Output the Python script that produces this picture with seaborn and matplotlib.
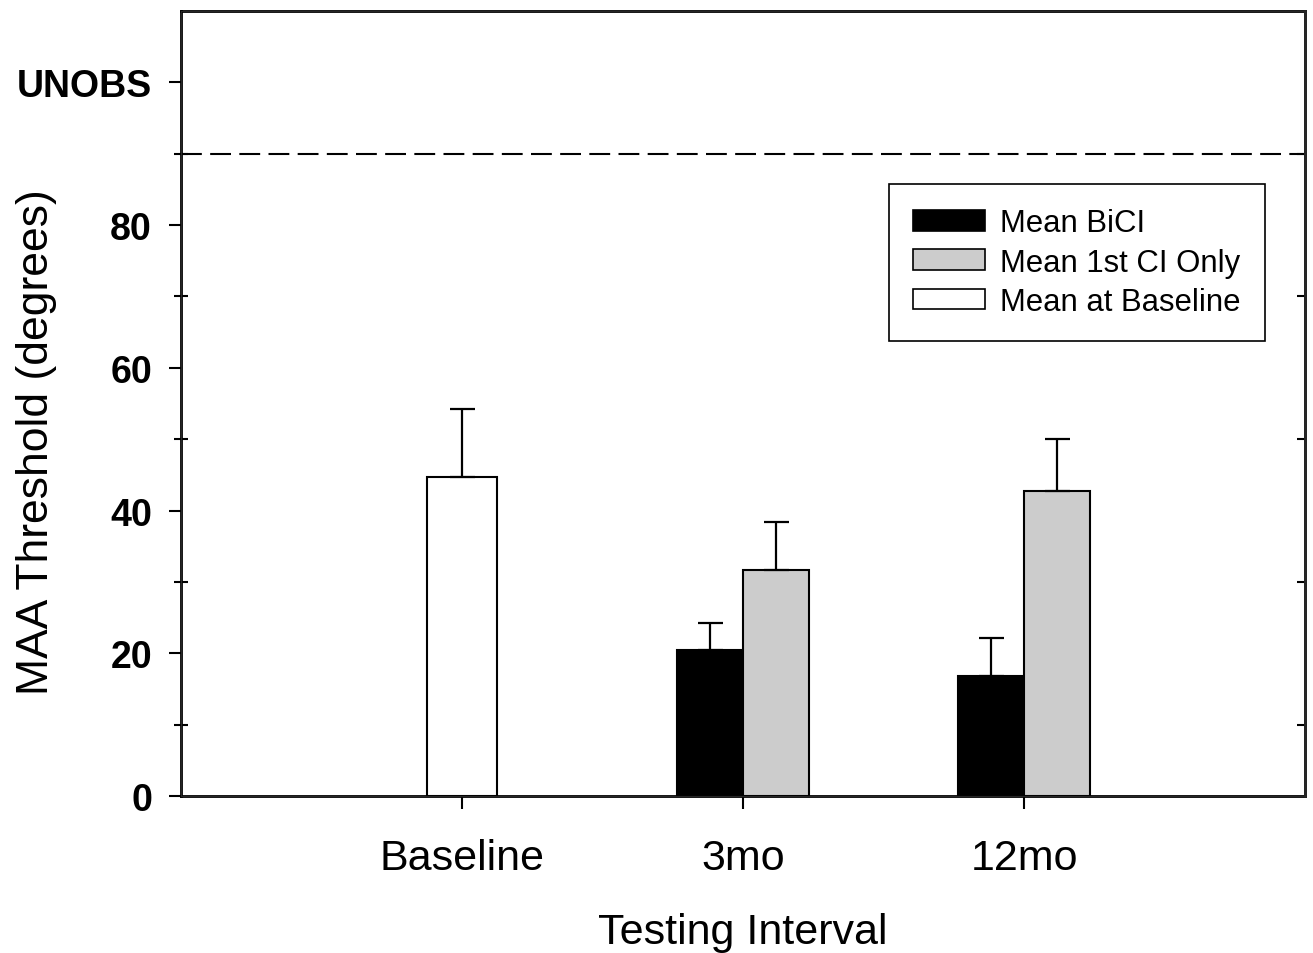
import matplotlib
matplotlib.use("Agg")
import matplotlib.pyplot as plt
from matplotlib.patches import Patch
import pandas as pd
import seaborn as sns

sns.set_style("ticks")
plt.rcParams['font.family'] = ['Liberation Sans', 'DejaVu Sans']
plt.rcParams.update({"text.color": "black", "axes.labelcolor": "black",
                     "xtick.color": "black", "ytick.color": "black"})

# data
intervals = ["Baseline", "3mo", "12mo"]
followups = ["3mo", "12mo"]
groups = ["Mean BiCI", "Mean 1st CI Only", "Mean at Baseline"]
group_colors = ["black", "#cccccc", "white"]

baseline_mean = [44.7]
baseline_err = [9.5]
bici_mean = [20.4, 16.8]
bici_err = [3.8, 5.3]
first_ci_mean = [31.6, 42.7]
first_ci_err = [6.8, 7.3]

ytick_vals = [0, 20, 40, 60, 80, 100]
ytick_labels = ["0", "20", "40", "60", "80", "UNOBS"]
minor_vals = [10, 30, 50, 70, 90]
unobs_cut = 90

base_df = pd.DataFrame({"interval": ["Baseline"], "group": groups[2],
                        "mean": baseline_mean, "err": baseline_err})
fu_df = pd.DataFrame({
    "interval": followups * 2,
    "group": [groups[0]] * 2 + [groups[1]] * 2,
    "mean": bici_mean + first_ci_mean,
    "err": bici_err + first_ci_err,
})
all_df = pd.concat([base_df, fu_df], ignore_index=True)

fig = plt.figure(figsize=(13.13, 9.54), dpi=100)
ax = fig.add_axes([0.1379, 0.1646, 0.8560, 0.8228])

sns.barplot(data=base_df, x="interval", y="mean", order=intervals, color="white",
            width=0.25, saturation=1, edgecolor="black", linewidth=1.5,
            errorbar=None, ax=ax)
sns.barplot(data=fu_df, x="interval", y="mean", hue="group", order=intervals,
            hue_order=groups[:2], palette=dict(zip(groups, group_colors)),
            width=0.47, saturation=1, edgecolor="black", linewidth=1.5,
            errorbar=None, legend=False, ax=ax)

# upper error bars only, placed on each bar the library drew
for p in ax.patches:
    h = p.get_height()
    match = all_df[(all_df["mean"] - h).abs() < 1e-9]
    if len(match) == 0:
        continue
    xc = p.get_x() + p.get_width() / 2
    ax.errorbar([xc], [h], yerr=[[0], [match["err"].iloc[0]]], fmt="none",
                ecolor="black", elinewidth=1.6, capsize=9, capthick=1.6, zorder=1)

ax.axhline(unobs_cut, color="black", lw=1.5, ls=(0, (10, 4)), zorder=0)

ax.set_xlim(-1, 3)
ax.set_ylim(0, 110)
ax.set_yticks(ytick_vals)
ax.set_yticklabels(ytick_labels, fontsize=27, fontweight="bold")
ax.set_yticks(minor_vals, minor=True)
ax.tick_params(axis="y", which="major", direction="out", length=9, width=1.5, pad=12)
ax.tick_params(axis="y", which="minor", direction="inout", length=10, width=1.5)
ax.tick_params(axis="x", direction="out", length=9, width=1.5, labelsize=31, pad=21)

for s in ax.spines.values():
    s.set_visible(True)
    s.set_linewidth(2)
    s.set_color("black")

twin = ax.twinx()
twin.set_ylim(ax.get_ylim())
twin.set_yticks(minor_vals)
twin.tick_params(axis="y", direction="in", length=6, width=1.5, labelright=False)
twin.spines["right"].set_linewidth(2)

ax.set_xlabel("Testing Interval", fontsize=31, labelpad=25)
ax.set_ylabel("MAA Threshold (degrees)", fontsize=32)
ax.yaxis.set_label_coords(-0.11, 0.452)

handles = [Patch(facecolor=c, edgecolor="black", linewidth=1.2) for c in group_colors]
leg = ax.legend(handles, groups, loc="upper right", bbox_to_anchor=(0.9644, 0.7796),
                borderaxespad=0, fontsize=22.4, frameon=True, fancybox=False,
                edgecolor="black", framealpha=1, borderpad=0.78, labelspacing=0.3,
                handlelength=2.3, handleheight=0.65, handletextpad=0.5)
leg.get_frame().set_linewidth(1.2)

fig.savefig("out.png", dpi=100)
